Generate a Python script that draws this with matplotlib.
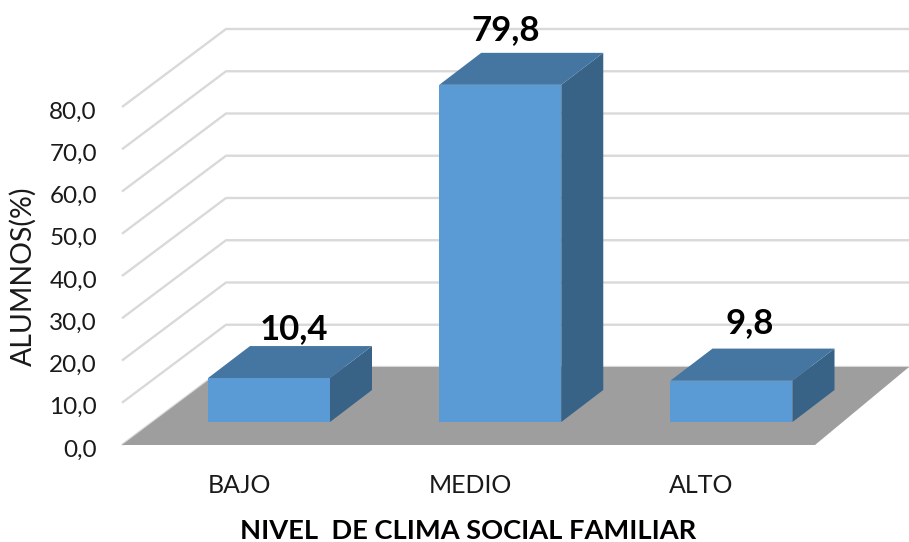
import matplotlib
matplotlib.use('Agg')
from matplotlib import pyplot as plt
from matplotlib.patches import Polygon

plt.rcParams['font.family'] = ['Lato', 'DejaVu Sans']

# Data
categories = ['BAJO', 'MEDIO', 'ALTO']
values = [10.4, 79.8, 9.8]
value_labels = ['10,4', '79,8', '9,8']
ticks = [0, 10, 20, 30, 40, 50, 60, 70, 80]

# Colours
front_col = '#5b9bd5'
top_col = '#4575a1'
side_col = '#386286'
floor_col = '#9e9e9e'
grid_col = '#d9d9d9'

fig = plt.figure(figsize=(9.09, 5.42), dpi=100)
ax = fig.add_axes([0, 0, 1, 1])

# One pixel scale for the whole picture: x in categories, y in percent
x_step = 231.25
y_step = 4.225
ax.set_xlim(-269 / x_step, (909 - 269) / x_step)
ax.set_ylim((445 - 542) / y_step, 445 / y_step)
ax.axis('off')

# Depth of the walls and of the bars
wall_dx = 104 / x_step
wall_dy = 78 / y_step
bar_dx = 42 / x_step
bar_dy = 32 / y_step
bar_w = 122 / x_step
bar_base = 23 / y_step   # front of the bars sits in the floor

left = -147 / x_step     # front left corner of the floor
right = 546 / x_step     # front right corner of the floor
back_right = 640 / x_step

# The value labels were moved by hand in the original (pixels)
label_dx = [4, -16, -3]
label_dy = [-7, -2, 1]

# Walls
for t in ticks:
    ax.plot([left, left + wall_dx, back_right], [t, t + wall_dy, t + wall_dy],
            color=grid_col, lw=1.7, zorder=1, solid_capstyle='butt')

# Floor
ax.add_patch(Polygon([(left, 0), (right, 0), (back_right, wall_dy),
                      (left + wall_dx, wall_dy)], closed=True,
                     facecolor=floor_col, edgecolor='none', zorder=2))

# Bars
for i, v in enumerate(values):
    x0 = i - bar_w / 2
    x1 = i + bar_w / 2
    y0 = bar_base
    y1 = bar_base + v
    ax.add_patch(Polygon([(x1, y0), (x1 + bar_dx, y0 + bar_dy),
                          (x1 + bar_dx, y1 + bar_dy), (x1, y1)],
                         facecolor=side_col, edgecolor='none', zorder=3))
    ax.add_patch(Polygon([(x0, y1), (x1, y1), (x1 + bar_dx, y1 + bar_dy),
                          (x0 + bar_dx, y1 + bar_dy)],
                         facecolor=top_col, edgecolor='none', zorder=3))
    ax.bar(i, v, width=bar_w, bottom=y0, color=front_col, zorder=4)
    ax.text(i + bar_dx / 2 + label_dx[i] / x_step,
            y1 + bar_dy + 2.0 + label_dy[i] / y_step,
            value_labels[i], fontsize=25, fontweight='bold',
            ha='center', va='bottom', color='black', zorder=5)
    ax.text(i - 30 / x_step, -9.6, categories[i], fontsize=18, ha='center',
            va='center', color='#1a1a1a')

# Tick labels
for t in ticks:
    ax.text(-172 / x_step, t - 1.2, f'{t:.1f}'.replace('.', ','), fontsize=17.5,
            ha='right', va='center', color='#1a1a1a')

# Axis titles
ax.text(-246 / x_step, 40, 'ALUMNOS(%)', fontsize=20.5, rotation=90,
        ha='center', va='center', color='#1a1a1a')
ax.text(199 / x_step, -20.4, 'NIVEL  DE CLIMA SOCIAL FAMILIAR', fontsize=19.6,
        fontweight='bold', ha='center', va='center', color='black')

fig.savefig('out.png', dpi=100)
